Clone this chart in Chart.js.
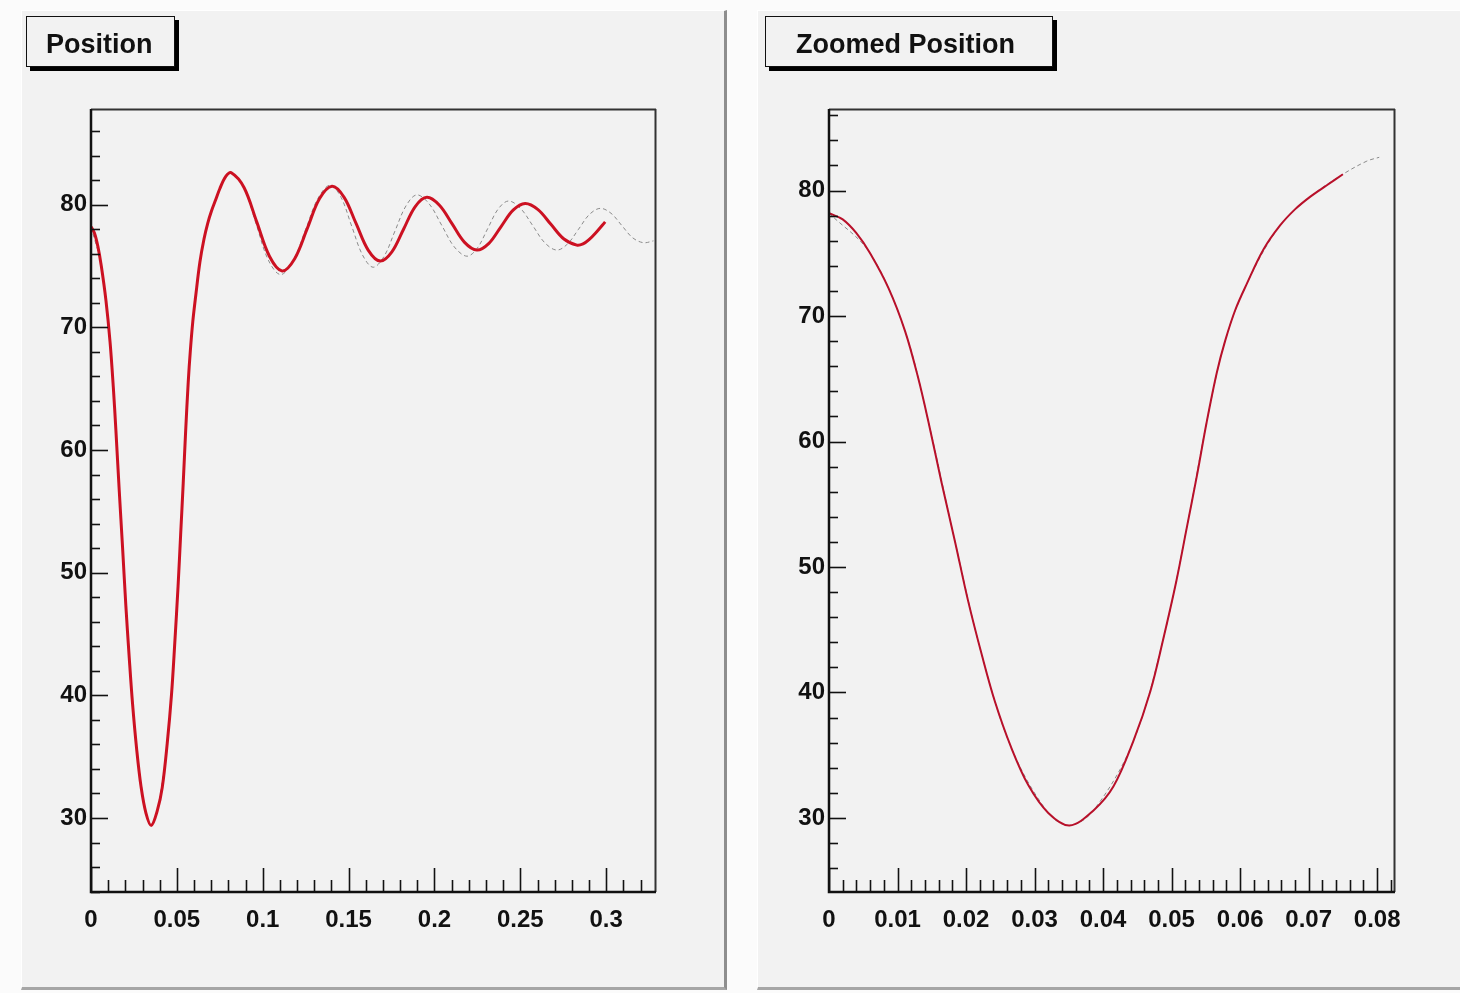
<!DOCTYPE html>
<html>
<head>
<meta charset="utf-8">
<script src="https://cdn.jsdelivr.net/npm/chart.js@4.4.1/dist/chart.umd.min.js"></script>
<style>
  html, body { margin: 0; padding: 0; background: #fbfbfb; }
  body { width: 1460px; height: 993px; position: relative; overflow: hidden; font-family: "Liberation Sans", Arial, sans-serif; }
  .panel { position: absolute; top: 10px; height: 980px; background: #f2f2f2;
           border-top: 1px solid #ffffff; border-left: 1px solid #ffffff;
           border-right: 3px solid #8e8e8e; border-bottom: 3px solid #a6a6a6; box-sizing: border-box; }
  #p1 { left: 21px; width: 706px; }
  #p2 { left: 757px; width: 710px; }
  canvas { position: absolute; top: 0; }
  #c1 { left: 0; }
  #c2 { left: 730px; }
  .title { position: absolute; top: 16px; height: 51px; box-sizing: border-box; background: #f2f2f2;
           border: 1.5px solid #111; box-shadow: 4px 4px 0 #000; font-weight: bold; font-size: 27px;
           line-height: 55px; color: #111; white-space: nowrap; overflow: hidden; }
  #t1 { left: 26px; width: 149px; padding-left: 19px; }
  #t2 { left: 765px; width: 288px; padding-left: 30px; }
</style>
</head>
<body>
<div class="panel" id="p1"></div>
<div class="panel" id="p2"></div>
<canvas id="c1" width="730" height="993"></canvas>
<canvas id="c2" width="730" height="993"></canvas>
<div class="title" id="t1">Position</div>
<div class="title" id="t2">Zoomed Position</div>
<script>
// ---------------- data ----------------
// red (main) curve
const posX = [0, 0.002, 0.004, 0.006, 0.0087, 0.0111, 0.013, 0.0145, 0.0164, 0.0184,
  0.0203, 0.0223, 0.0242, 0.0266, 0.0291, 0.032, 0.0351, 0.0386, 0.0415, 0.0444,
  0.0469, 0.0488, 0.0507, 0.0522, 0.0537, 0.0551, 0.0566, 0.0578, 0.0593, 0.061,
  0.0634, 0.0658, 0.068, 0.0702, 0.0726, 0.075, 0.0785, 0.0817,
  0.0891, 0.0965, 0.1039, 0.1113,
  0.1186, 0.1259, 0.1331, 0.1404,
  0.1474, 0.1544, 0.1614, 0.1684,
  0.1752, 0.182, 0.1888, 0.1956,
  0.2029, 0.2102, 0.2174, 0.2247,
  0.2317, 0.2387, 0.2458, 0.2528,
  0.2603, 0.2678, 0.2754, 0.2829,
  0.2865, 0.290, 0.2945, 0.2994];
const posY = [78.2, 77.7, 76.6, 75.0, 72.2, 68.8, 65.1, 61.6, 56.8, 52.0,
  47.3, 43.0, 39.3, 35.6, 32.6, 30.4, 29.4, 30.6, 32.5, 36.1,
  40.1, 44.3, 48.9, 53.1, 57.3, 61.5, 65.5, 68.0, 70.5, 72.6,
  75.3, 77.2, 78.5, 79.5, 80.4, 81.3, 82.3, 82.6,
  81.4, 78.6, 75.8, 74.6,
  75.6, 78.05, 80.5, 81.5,
  80.6, 78.45, 76.3, 75.4,
  76.15, 78.0, 79.85, 80.6,
  79.95, 78.45, 76.95, 76.3,
  76.85, 78.2, 79.55, 80.1,
  79.6, 78.4, 77.2, 76.7,
  76.8, 77.15, 77.8, 78.6];

// grey dashed (reference) curve
const refX = [0, 0.006, 0.0111, 0.0145, 0.0184, 0.0223, 0.0266, 0.032, 0.0351, 0.0386,
  0.0444, 0.0488, 0.0522, 0.0551, 0.0578, 0.061, 0.0658, 0.0702, 0.075, 0.0785, 0.0803,
  0.0815, 0.0887, 0.0960, 0.1032, 0.1104,
  0.1176, 0.1249, 0.1321, 0.1393,
  0.1456, 0.1518, 0.1581, 0.1643,
  0.1707, 0.177, 0.1834, 0.1897,
  0.197, 0.2043, 0.2116, 0.2189,
  0.2249, 0.231, 0.2371, 0.2431,
  0.2501, 0.2572, 0.2642, 0.2712,
  0.2775, 0.2839, 0.2902, 0.2965,
  0.3028, 0.3091, 0.3154, 0.3217, 0.3275];
const refY = [78.2, 75.0, 68.8, 61.6, 52.0, 43.0, 35.6, 30.4, 29.4, 30.6,
  36.1, 44.3, 53.1, 61.5, 68.0, 72.6, 77.2, 79.5, 81.3, 82.35, 82.65,
  82.7, 81.5, 78.5, 75.5, 74.3,
  75.4, 77.95, 80.5, 81.6,
  80.6, 78.25, 75.9, 74.9,
  75.8, 77.85, 79.9, 80.8,
  80.05, 78.3, 76.55, 75.8,
  76.45, 78.05, 79.65, 80.3,
  79.7, 78.3, 76.9, 76.3,
  76.8, 78.0, 79.2, 79.7,
  79.3, 78.3, 77.3, 76.9, 77.05];

// zoomed panel data ends
const zoomPosEnd = 0.075;
const zoomRefEnd = 0.0805;

// axis ticks / ranges
const xTicksLeft = [0, 0.05, 0.1, 0.15, 0.2, 0.25, 0.3];
const xTicksRight = [0, 0.01, 0.02, 0.03, 0.04, 0.05, 0.06, 0.07, 0.08];
const yTicks = [30, 40, 50, 60, 70, 80];
const xMinorLeft = 0.01, xMinorRight = 0.002, yMinor = 2;
const xRangeLeft = [0, 0.329], yRangeLeft = [23.97, 87.8];
const xRangeRight = [0, 0.0826], yRangeRight = [24.1, 86.5];

// ---------------- rendering ----------------
const toPts = (xs, ys, xmax) => xs.map((x, i) => ({ x: x, y: ys[i] })).filter(p => p.x <= xmax + 1e-9);

const rootAxes = {
  id: 'rootAxes',
  afterDatasetsDraw(chart, args, o) {
    const { ctx, chartArea: a, scales: { x, y } } = chart;
    ctx.save();
    ctx.strokeStyle = '#111';
    ctx.lineWidth = 1.6;
    const nX = Math.round(o.xmax / o.xMinor);
    for (let i = 0; i <= nX; i++) {
      const v = i * o.xMinor;
      if (v > o.xmax + 1e-9) break;
      const px = Math.round(x.getPixelForValue(v)) + 0.5;
      const major = o.xMajor.some(m => Math.abs(m - v) < o.xMinor / 10);
      ctx.beginPath();
      ctx.moveTo(px, a.bottom);
      ctx.lineTo(px, a.bottom - (major ? o.xLenMaj : o.xLenMin));
      ctx.stroke();
    }
    const start = Math.ceil(o.ymin / o.yMinor) * o.yMinor;
    for (let v = start; v <= o.ymax + 1e-9; v += o.yMinor) {
      const py = Math.round(y.getPixelForValue(v)) + 0.5;
      const major = o.yMajor.includes(v);
      ctx.beginPath();
      ctx.moveTo(a.left, py);
      ctx.lineTo(a.left + (major ? o.yLenMaj : o.yLenMin), py);
      ctx.stroke();
    }
    ctx.lineWidth = 2;
    ctx.strokeStyle = '#333';
    ctx.beginPath();
    ctx.moveTo(a.left, a.top + 0.5); ctx.lineTo(a.right, a.top + 0.5);
    ctx.moveTo(a.right - 0.5, a.top); ctx.lineTo(a.right - 0.5, a.bottom);
    ctx.stroke();
    ctx.lineWidth = 2.5;
    ctx.strokeStyle = '#111';
    ctx.beginPath();
    ctx.moveTo(a.left, a.top); ctx.lineTo(a.left, a.bottom);
    ctx.lineTo(a.right, a.bottom);
    ctx.stroke();
    ctx.restore();
  }
};

function makeChart(canvasId, cfg) {
  const font = { family: '"Liberation Sans", Arial, sans-serif', size: 24, weight: 'bold' };
  return new Chart(document.getElementById(canvasId), {
    type: 'scatter',
    data: {
      datasets: [
        { label: 'position', data: cfg.red, showLine: true, borderColor: cfg.redColor, borderWidth: cfg.redWidth,
          pointRadius: 0, tension: 0.35, order: 1 },
        { label: 'reference', data: cfg.gray, showLine: true, borderColor: '#8a8a8a', borderWidth: 1,
          borderDash: [4, 3], pointRadius: 0, tension: 0.35, order: 2 }
      ]
    },
    options: {
      responsive: false, animation: false, devicePixelRatio: 1,
      layout: { padding: { left: 0, top: 109, right: cfg.padRight, bottom: 0 } },
      plugins: {
        legend: { display: false }, tooltip: { enabled: false },
        rootAxes: {
          xMajor: cfg.xTicks, xMinor: cfg.xMinor, xmax: cfg.xRange[1],
          yMajor: yTicks, yMinor: yMinor, ymin: cfg.yRange[0], ymax: cfg.yRange[1],
          xLenMaj: 24, xLenMin: 12, yLenMaj: 17, yLenMin: 9
        }
      },
      scales: {
        x: {
          type: 'linear', min: cfg.xRange[0], max: cfg.xRange[1],
          grid: { display: false, drawTicks: false }, border: { display: false },
          afterBuildTicks: s => { s.ticks = cfg.xTicks.map(v => ({ value: v })); },
          afterFit: s => { s.height = 101; },
          ticks: { color: '#111', font: font, padding: 14, maxRotation: 0, autoSkip: false,
                   callback: v => String(v) }
        },
        y: {
          type: 'linear', min: cfg.yRange[0], max: cfg.yRange[1],
          grid: { display: false, drawTicks: false }, border: { display: false },
          afterBuildTicks: s => { s.ticks = yTicks.map(v => ({ value: v })); },
          afterFit: s => { s.width = cfg.yWidth; },
          ticks: { color: '#111', font: font, padding: 4, autoSkip: false, callback: v => String(v) }
        }
      }
    },
    plugins: [rootAxes]
  });
}

makeChart('c1', {
  red: toPts(posX, posY, xRangeLeft[1]), gray: toPts(refX, refY, xRangeLeft[1]),
  redWidth: 3, redColor: '#cc1122',
  xTicks: xTicksLeft, xMinor: xMinorLeft, xRange: xRangeLeft, yRange: yRangeLeft,
  padRight: 74, yWidth: 91
});
makeChart('c2', {
  red: toPts(posX, posY, zoomPosEnd), gray: toPts(refX, refY, zoomRefEnd),
  redWidth: 2, redColor: '#b8102a',
  xTicks: xTicksRight, xMinor: xMinorRight, xRange: xRangeRight, yRange: yRangeRight,
  padRight: 65, yWidth: 99
});
</script>
</body>
</html>
